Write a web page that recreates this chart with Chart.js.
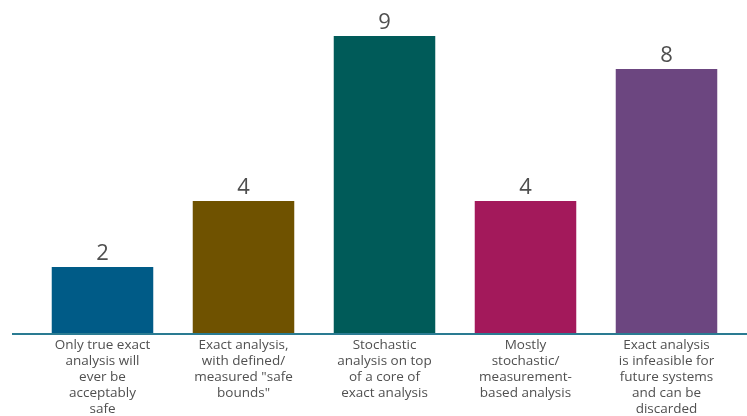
<!DOCTYPE html>
<html>
<head>
<meta charset="utf-8">
<script src="https://cdn.jsdelivr.net/npm/chart.js@4"></script>
<style>
  html, body { margin: 0; padding: 0; background: #ffffff; }
  #wrap { width: 747px; height: 416px; position: relative; }
</style>
</head>
<body>
<div id="wrap"><canvas id="c" width="747" height="416"></canvas></div>
<script>
const categories = [
  ["Only true exact", "analysis will", "ever be", "acceptably", "safe"],
  ["Exact analysis,", "with defined/", "measured \"safe", "bounds\""],
  ["Stochastic", "analysis on top", "of a core of", "exact analysis"],
  ["Mostly", "stochastic/", "measurement-", "based analysis"],
  ["Exact analysis", "is infeasible for", "future systems", "and can be", "discarded"]
];
const votes = [2, 4, 9, 4, 8];
const barColors = ["#005b87", "#6f5200", "#005b59", "#a3195b", "#6c4680"];

const valueLabels = {
  id: 'valueLabels',
  afterDatasetsDraw(chart) {
    const ctx = chart.ctx;
    const meta = chart.getDatasetMeta(0);
    ctx.save();
    ctx.font = '22px "Open Sans", sans-serif';
    ctx.fillStyle = '#4f4f4f';
    ctx.textAlign = 'center';
    ctx.textBaseline = 'bottom';
    meta.data.forEach((bar, i) => {
      ctx.fillText(String(votes[i]), bar.x, bar.y - 2);
    });
    ctx.restore();
  }
};

const baseline = {
  id: 'baseline',
  afterDatasetsDraw(chart) {
    const ctx = chart.ctx;
    const y = chart.scales.y.getPixelForValue(0);
    ctx.save();
    ctx.strokeStyle = '#2a7b92';
    ctx.lineWidth = 2;
    ctx.beginPath();
    ctx.moveTo(12, y + 1);
    ctx.lineTo(chart.width, y + 1);
    ctx.stroke();
    ctx.restore();
  }
};

new Chart(document.getElementById('c'), {
  type: 'bar',
  data: {
    labels: categories,
    datasets: [{
      data: votes,
      backgroundColor: barColors,
      borderWidth: 0,
      categoryPercentage: 0.72,
      barPercentage: 1.0
    }]
  },
  options: {
    responsive: false,
    animation: false,
    layout: { padding: { left: 32, right: 10, top: 3, bottom: 0 } },
    plugins: { legend: { display: false }, tooltip: { enabled: false } },
    scales: {
      x: {
        grid: { display: false, drawTicks: false },
        border: { display: false },
        ticks: {
          color: '#505050',
          font: { family: '"Open Sans", sans-serif', size: 13.5, lineHeight: 1.19 },
          padding: 4,
          maxRotation: 0,
          autoSkip: false
        },
        afterFit(scale) { scale.height = 83; }
      },
      y: {
        display: false,
        min: 0,
        max: 10
      }
    }
  },
  plugins: [valueLabels, baseline]
});
</script>
</body>
</html>
